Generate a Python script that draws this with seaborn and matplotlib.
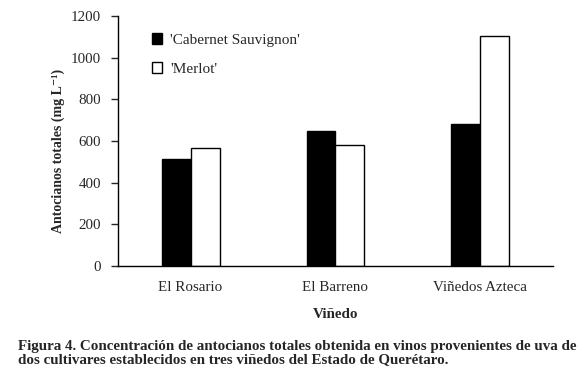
import matplotlib
matplotlib.use("Agg")
import matplotlib.pyplot as plt
import pandas as pd
import seaborn as sns

# Data
vinedos = ["El Rosario", "El Barreno", "Viñedos Azteca"]
cabernet = [512, 650, 680]
merlot = [566, 580, 1104]
cultivares = ["'Cabernet Sauvignon'", "'Merlot'"]

df = pd.DataFrame({
    "vinedo": vinedos * 2,
    "cultivar": [cultivares[0]] * 3 + [cultivares[1]] * 3,
    "antocianos": cabernet + merlot,
})

sns.set_style("white")
plt.rcParams["font.family"] = ["Liberation Serif", "DejaVu Serif"]

fig = plt.figure(figsize=(5.85, 3.82), dpi=100)
ax = fig.add_axes([0.202, 0.304, 0.743, 0.654])

sns.barplot(data=df, x="vinedo", y="antocianos", hue="cultivar",
            palette=["black", "white"], edgecolor="black", linewidth=1,
            width=0.4, ax=ax)

ax.set_ylim(0, 1200)
ax.set_xlim(-0.5, 2.5)
ax.set_yticks(range(0, 1201, 200))
ax.tick_params(axis="y", direction="out", length=5, width=1, labelsize=10.8, pad=7.5, left=True)
ax.tick_params(axis="x", length=0, labelsize=10.8, pad=11)

ax.spines["top"].set_visible(False)
ax.spines["right"].set_visible(False)
for side in ["left", "bottom"]:
    ax.spines[side].set_linewidth(1)
    ax.spines[side].set_color("black")

ax.set_ylabel("Antocianos totales (mg L⁻¹)", fontsize=10,
              weight="bold")
ax.yaxis.set_label_coords(-0.122, 0.46)
ax.set_xlabel("Viñedo", fontsize=10.8, weight="bold", labelpad=10)

ax.legend(loc="upper left", bbox_to_anchor=(0.063, 0.955), frameon=False,
          fontsize=11, handlelength=0.7, handleheight=0.7,
          handletextpad=0.5, labelspacing=1.0, borderaxespad=0)

fig.text(0.031, 0.042,
         "Figura 4. Concentración de antocianos totales obtenida en vinos provenientes de uva de\n"
         "dos cultivares establecidos en tres viñedos del Estado de Querétaro.",
         fontsize=10.8, weight="bold", ha="left", va="bottom", linespacing=1.0)

fig.savefig("out.png", dpi=100)
